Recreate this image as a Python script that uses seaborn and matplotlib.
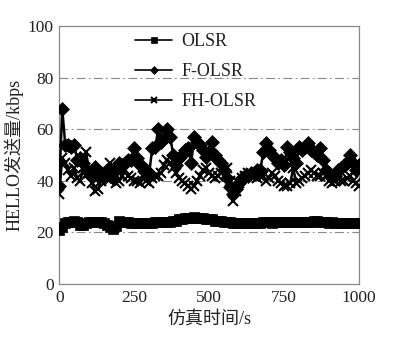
import matplotlib
matplotlib.use("Agg")
import matplotlib.pyplot as plt
import seaborn as sns
import numpy as np
import pandas as pd

time_s = list(range(0, 1001, 10))

olsr = [21, 22, 23.5, 24, 24, 24.5, 24, 23, 23, 23.5,
        24, 24, 24, 24, 24, 23.5, 23, 22, 21.5, 22.5,
        24.5, 24, 24, 24, 23.5, 23.5, 23.5, 23.5, 23.5, 23.5,
        23.5, 23.5, 24, 24, 24, 24, 24, 24, 24.5, 24.5,
        25, 25, 25.5, 25.5, 25.5, 26, 25.5, 25.5, 25.5, 25,
        25, 25, 24.5, 24.5, 24.5, 24, 24, 24, 23.5, 23.5,
        23.5, 23.5, 23.5, 23.5, 23.5, 23.5, 23.5, 23.5, 24, 24,
        24, 23.5, 24, 24, 24, 24, 24, 24, 24, 24,
        24, 24, 24, 24, 24, 24.5, 24.5, 24, 24, 24,
        23.5, 24, 23.5, 23.5, 23.5, 23.5, 23.5, 23.5, 23.5, 23.5,
        23.5]

f_olsr = [38, 68, 54, 54, 53, 54, 48, 49, 47, 44,
          43, 41.5, 45.5, 42, 43, 41, 44, 42, 41, 44,
          46.8, 46, 47, 48, 48, 52.6, 49, 46, 45.5, 44,
          43, 52.6, 53, 60, 55, 56.5, 60, 57, 50, 46,
          49, 50, 52, 52.6, 47, 57, 55, 54, 52, 49.4,
          51, 55, 50, 48, 47, 44, 41, 37.7, 35, 37,
          39, 41, 42, 42, 43, 43, 44, 44, 51, 54.5,
          52, 50, 49, 47, 48, 46, 53, 51, 49, 47,
          53, 52, 53, 54.5, 52, 51, 50, 52.6, 48, 44,
          43, 42, 42, 44, 45, 46, 47, 50, 47, 44,
          46]

fh_olsr = [35, 49, 47, 44, 42, 45, 41, 40, 45, 51,
           43, 39, 36, 37, 40, 43, 41, 47, 42, 39,
           40, 42, 44, 42, 41, 40, 40, 39, 42, 40,
           39, 41, 42, 42, 43, 46, 48, 47, 45, 43,
           41, 40, 39, 38, 37, 38, 40, 42, 44, 45,
           43, 42, 41, 42, 43, 44, 45, 40, 32, 36,
           39, 41, 42, 43, 43, 42, 41, 42, 42, 40,
           41, 43, 42, 40, 39, 38, 38, 39, 45, 39,
           40, 41, 42, 43, 44, 43, 42, 42, 43, 42,
           40, 39, 40, 41, 40, 40, 41, 42, 40, 39,
           38]

series_names = ["OLSR", "F-OLSR", "FH-OLSR"]
x_ticks = [0, 250, 500, 750, 1000]
y_ticks = [0, 20, 40, 60, 80, 100]

sns.set_theme(style="white")
plt.rcParams['font.family'] = ['Liberation Serif', 'Noto Sans CJK SC']

fig = plt.figure(figsize=(4.03, 3.55), dpi=100)
ax = fig.add_axes([0.147, 0.2, 0.7444, 0.7268])

df = pd.DataFrame({"t": time_s * 3,
                   "v": olsr + f_olsr + fh_olsr,
                   "s": [series_names[0]] * len(time_s) + [series_names[1]] * len(time_s) + [series_names[2]] * len(time_s)})

markers = {"OLSR": "s", "F-OLSR": "D", "FH-OLSR": "x"}
sizes = {"OLSR": 7.5, "F-OLSR": 7, "FH-OLSR": 7}
for name in series_names:
    sub = df[df["s"] == name]
    sns.lineplot(data=sub, x="t", y="v", ax=ax, color="black", linewidth=1.8,
                 marker=markers[name], markersize=sizes[name],
                 markeredgewidth=1.5 if name == "FH-OLSR" else 0.5,
                 markeredgecolor="black", markerfacecolor="black",
                 label=name, zorder=3)

for yv in [20, 40, 60, 80]:
    ax.axhline(yv, color="#888888", linestyle=(0, (8, 3, 1.5, 3)), linewidth=0.8, zorder=1)

ax.set_xlim(0, 1000)
ax.set_ylim(0, 100)
ax.set_xticks(x_ticks)
ax.set_yticks(y_ticks)
ax.tick_params(axis="both", length=0, labelsize=12.5, colors="#222222", pad=4)
for sp in ax.spines.values():
    sp.set_color("#888888")
    sp.set_linewidth(0.9)

ax.set_xlabel("仿真时间/s", fontsize=13, color="#222222", labelpad=4)
ax.set_ylabel("HELLO发送量/kbps", fontsize=13, color="#222222", labelpad=3)

handles, labels = ax.get_legend_handles_labels()
leg = ax.legend(handles, labels, loc="upper left", bbox_to_anchor=(0.215, 1.015),
                frameon=False, fontsize=13, handlelength=2.1, handletextpad=0.5,
                labelspacing=0.72, borderaxespad=0.2, markerscale=0.65)
for t in leg.get_texts():
    t.set_color("#222222")
for h in leg.legend_handles:
    h.set_linewidth(1.2)

fig.savefig("out.png", dpi=100, facecolor="white")
